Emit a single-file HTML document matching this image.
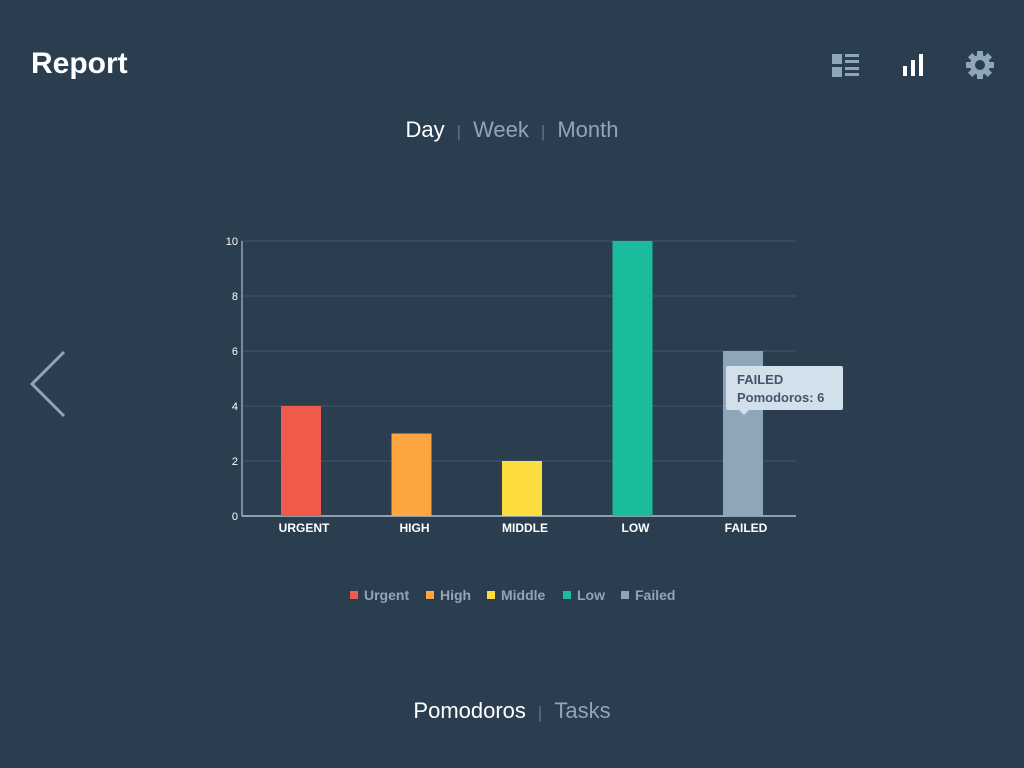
<!DOCTYPE html>
<html><head><meta charset="utf-8"><style>
body{margin:0;width:1024px;height:768px;background:#2b3e50;font-family:"Liberation Sans",sans-serif;overflow:hidden;position:relative}
.abs{position:absolute}
</style></head><body>
<div class="abs" style="left:31px;top:47px;font-size:30px;font-weight:bold;color:#fff">Report</div>
<svg class="abs" style="left:0;top:0" width="1024" height="768">
<g fill="#8fa5b8">
<rect x="832" y="54" width="10" height="10"/><rect x="832" y="67" width="10" height="10"/>
<rect x="845" y="54" width="14" height="3"/><rect x="845" y="60" width="14" height="3"/><rect x="845" y="67" width="14" height="3"/><rect x="845" y="73" width="14" height="3"/></g>
<g fill="#fff">
<rect x="903" y="66" width="4" height="10"/><rect x="911" y="60" width="4" height="16"/><rect x="919" y="54" width="4" height="22"/></g>
<g fill="#8fa5b8" transform="translate(980,65)">
<circle r="10"/><g><rect x="-3" y="-14" width="6" height="28"/><rect x="-3" y="-14" width="6" height="28" transform="rotate(45)"/><rect x="-3" y="-14" width="6" height="28" transform="rotate(90)"/><rect x="-3" y="-14" width="6" height="28" transform="rotate(135)"/></g>
<circle r="5" fill="#2b3e50"/></g>
<polyline points="64,352 32,384 64,416" fill="none" stroke="#8fa5b8" stroke-width="3"/>
<g id="chart"></g>
</svg>
<div class="abs" style="left:0;width:1024px;top:117px;text-align:center;font-size:22px;color:#8fa5b8">
<span style="color:#fff">Day</span><span style="margin:0 12px;font-size:17px;color:#5d7388">|</span><span>Week</span><span style="margin:0 12px;font-size:17px;color:#5d7388">|</span><span>Month</span></div>
<div class="abs" style="left:0;width:1024px;top:698px;text-align:center;font-size:22px;color:#8fa5b8">
<span style="color:#fff">Pomodoros</span><span style="margin:0 12px;font-size:17px;color:#5d7388">|</span><span>Tasks</span></div>
<div class="abs" style="left:726px;top:366px;height:44px;padding:0 0 0 11px;background:#d2e0ec;border-radius:2px;color:#40566b;font-size:13px;font-weight:bold;line-height:18px;padding-top:5px;box-sizing:border-box;width:117px">FAILED<br>Pomodoros: 6</div>
<div class="abs" style="left:739px;top:410px;width:0;height:0;border-left:5px solid transparent;border-right:5px solid transparent;border-top:5px solid #d2e0ec"></div>
<script>
const categories=["URGENT","HIGH","MIDDLE","LOW","FAILED"];
const legendNames=["Urgent","High","Middle","Low","Failed"];
const values=[4,3,2,10,6];
const colors=["#f05a4b","#fda53e","#fddc3f","#1abc9c","#8fa5b8"];
const ticks=[0,2,4,6,8,10];
const g=document.getElementById('chart');
const NS='http://www.w3.org/2000/svg';
const x0=242,x1=796,y0=516,y1=241,ymax=10;
const ys=v=>y0-(v/ymax)*(y0-y1);
const xs=i=>301+i*110.5;
function mk(t,a,p){const e=document.createElementNS(NS,t);for(const k in a)e.setAttribute(k,a[k]);(p||g).appendChild(e);return e;}
ticks.forEach(t=>{
 if(t>0){const l=mk('line',{x1:x0,x2:x1,y1:ys(t),y2:ys(t),stroke:'#33506a','stroke-width':1.5});
 
 }
 const tx=mk('text',{x:238,y:ys(t)+4,'text-anchor':'end','font-size':11,fill:'#fff','font-family':'Liberation Sans'});
 tx.textContent=t;
 
 
});
mk('line',{x1:x0,x2:x0,y1:y1,y2:y0,stroke:'#8fa5b8','stroke-width':1.5});
mk('line',{x1:x0,x2:x1,y1:y0,y2:y0,stroke:'#b0bfcc','stroke-width':1.5});
values.forEach((v,i)=>{
 const r=mk('rect',{x:xs(i)-20,y:ys(v),width:40,height:y0-ys(v),fill:colors[i]});
 
 
 const t=mk('text',{x:xs(i)+3,y:532,'text-anchor':'middle','font-size':12,'font-weight':'bold',fill:'#fff','font-family':'Liberation Sans'});
 t.textContent=categories[i];
 
 
});
const lx=[350,426,487,563,621];
legendNames.forEach((n,i)=>{
 const r=mk('rect',{x:lx[i],y:591,width:8,height:8,fill:colors[i]});
 
 
 const t=mk('text',{x:lx[i]+14,y:600,'font-size':14,'font-weight':'bold',fill:'#8fa5b8','font-family':'Liberation Sans'});
 t.textContent=n;
 
 
});
</script>
</body></html>
